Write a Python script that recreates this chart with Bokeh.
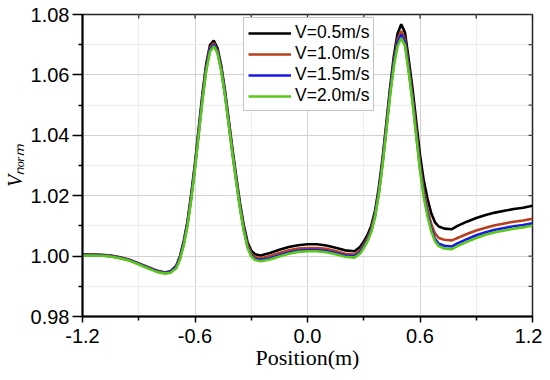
from bokeh.plotting import figure
from bokeh.models import (FixedTicker, NumeralTickFormatter, Legend,
                          LegendItem, Range1d)
from bokeh.embed import file_html
from bokeh.resources import INLINE

# ---------------- data ----------------
position = [-1.20, -1.15, -1.10, -1.05, -1.00, -0.95, -0.90, -0.85, -0.80, -0.76,
            -0.73, -0.70, -0.68, -0.66, -0.64, -0.62, -0.60, -0.58, -0.56, -0.54,
            -0.52, -0.50, -0.48, -0.46, -0.44, -0.42, -0.40, -0.38, -0.36, -0.34,
            -0.32, -0.30, -0.28, -0.25, -0.20, -0.15, -0.10, -0.05, 0.00, 0.05,
            0.10, 0.15, 0.20, 0.25, 0.28, 0.30, 0.32, 0.34, 0.36, 0.38,
            0.40, 0.42, 0.44, 0.46, 0.48, 0.50, 0.52, 0.54, 0.56, 0.58,
            0.60, 0.62, 0.64, 0.66, 0.68, 0.70, 0.73, 0.77, 0.80, 0.85,
            0.90, 0.95, 1.00, 1.05, 1.10, 1.15, 1.20]

v_05 = [1.0005, 1.0005, 1.0004, 1.0002, 0.9996, 0.9988, 0.9976, 0.9963, 0.9951, 0.9946,
        0.9950, 0.9968, 1.0000, 1.0050, 1.0115, 1.0206, 1.0308, 1.0424, 1.0539, 1.0637,
        1.0699, 1.0714, 1.0689, 1.0630, 1.0548, 1.0451, 1.0353, 1.0262, 1.0175, 1.0102,
        1.0047, 1.0018, 1.0006, 1.0002, 1.0010, 1.0021, 1.0030, 1.0036, 1.0039, 1.0039,
        1.0035, 1.0028, 1.0019, 1.0016, 1.0030, 1.0048, 1.0070, 1.0100, 1.0149, 1.0226,
        1.0323, 1.0437, 1.0555, 1.0660, 1.0736, 1.0768, 1.0740, 1.0650, 1.0555, 1.0445,
        1.0335, 1.0250, 1.0190, 1.0142, 1.0112, 1.0098, 1.0091, 1.0089, 1.0100, 1.0114,
        1.0126, 1.0136, 1.0144, 1.0150, 1.0156, 1.0160, 1.0167]

v_10 = [1.0004, 1.0004, 1.0003, 1.0001, 0.9995, 0.9987, 0.9975, 0.9962, 0.9950, 0.9945,
        0.9949, 0.9966, 0.9997, 1.0046, 1.0110, 1.0200, 1.0301, 1.0416, 1.0530, 1.0628,
        1.0690, 1.0705, 1.0681, 1.0622, 1.0540, 1.0443, 1.0345, 1.0254, 1.0166, 1.0093,
        1.0038, 1.0009, 0.9997, 0.9993, 1.0000, 1.0010, 1.0019, 1.0025, 1.0027, 1.0027,
        1.0024, 1.0017, 1.0008, 1.0005, 1.0019, 1.0037, 1.0060, 1.0090, 1.0139, 1.0215,
        1.0312, 1.0426, 1.0543, 1.0645, 1.0717, 1.0745, 1.0718, 1.0628, 1.0530, 1.0418,
        1.0305, 1.0217, 1.0155, 1.0106, 1.0075, 1.0060, 1.0054, 1.0052, 1.0060, 1.0073,
        1.0085, 1.0094, 1.0102, 1.0108, 1.0114, 1.0118, 1.0124]

v_15 = [1.0004, 1.0003, 1.0002, 1.0000, 0.9994, 0.9986, 0.9974, 0.9961, 0.9949, 0.9944,
        0.9948, 0.9964, 0.9994, 1.0042, 1.0106, 1.0195, 1.0296, 1.0410, 1.0524, 1.0622,
        1.0684, 1.0700, 1.0676, 1.0617, 1.0535, 1.0438, 1.0340, 1.0249, 1.0161, 1.0088,
        1.0032, 1.0003, 0.9991, 0.9987, 0.9993, 1.0003, 1.0012, 1.0018, 1.0020, 1.0020,
        1.0017, 1.0010, 1.0002, 0.9999, 1.0013, 1.0031, 1.0054, 1.0084, 1.0133, 1.0209,
        1.0306, 1.0420, 1.0537, 1.0637, 1.0707, 1.0734, 1.0707, 1.0617, 1.0518, 1.0405,
        1.0292, 1.0203, 1.0140, 1.0090, 1.0057, 1.0041, 1.0034, 1.0032, 1.0042, 1.0056,
        1.0069, 1.0079, 1.0087, 1.0093, 1.0099, 1.0103, 1.0109]

v_20 = [1.0002, 1.0002, 1.0001, 0.9999, 0.9993, 0.9985, 0.9972, 0.9959, 0.9947, 0.9942,
        0.9945, 0.9960, 0.9989, 1.0036, 1.0100, 1.0188, 1.0289, 1.0403, 1.0516, 1.0614,
        1.0677, 1.0695, 1.0672, 1.0613, 1.0531, 1.0435, 1.0337, 1.0246, 1.0158, 1.0084,
        1.0028, 0.9999, 0.9987, 0.9983, 0.9989, 0.9999, 1.0008, 1.0014, 1.0016, 1.0016,
        1.0013, 1.0006, 0.9998, 0.9995, 1.0008, 1.0026, 1.0049, 1.0079, 1.0128, 1.0203,
        1.0299, 1.0412, 1.0528, 1.0626, 1.0695, 1.0722, 1.0696, 1.0607, 1.0508, 1.0396,
        1.0284, 1.0195, 1.0132, 1.0082, 1.0049, 1.0033, 1.0025, 1.0023, 1.0033, 1.0047,
        1.0060, 1.0071, 1.0079, 1.0085, 1.0091, 1.0095, 1.0101]

series_labels = ["V=0.5m/s", "V=1.0m/s", "V=1.5m/s", "V=2.0m/s"]
series_colors = ["#000000", "#b8401f", "#1a1ae6", "#5ac81a"]

x_ticks = [-1.2, -0.6, 0.0, 0.6, 1.2]
x_minor = [-0.9, -0.3, 0.3, 0.9]
y_ticks = [0.98, 1.00, 1.02, 1.04, 1.06, 1.08]
y_minor = [0.99, 1.01, 1.03, 1.05, 1.07]

x_title = "Position(m)"
y_title = "V\u2099\u2092\u1d63\u2098"   # V with subscript "norm"

# ---------------- figure ----------------
p = figure(width=542, height=372,
           x_range=Range1d(x_ticks[0], x_ticks[-1]),
           y_range=Range1d(y_ticks[0], y_ticks[-1]),
           output_backend="svg", toolbar_location=None,
           min_border_left=80, min_border_right=10,
           min_border_top=14, min_border_bottom=55)
p.outline_line_color = "#222222"
p.outline_line_width = 1.5
p.background_fill_color = "white"
p.border_fill_color = "white"

xt = FixedTicker(ticks=x_ticks, minor_ticks=x_minor)
yt = FixedTicker(ticks=y_ticks, minor_ticks=y_minor)

tick_font = "Liberation Sans"

xa = p.xaxis[0]
xa.ticker = xt
xa.formatter = NumeralTickFormatter(format="0.0")
xa.axis_line_width = 2
xa.axis_line_color = "black"
xa.major_tick_line_width = 1.5
xa.minor_tick_line_width = 1.5
xa.major_tick_out = 6
xa.major_tick_in = 0
xa.minor_tick_out = 4
xa.minor_tick_in = 0
xa.major_label_text_font = tick_font
xa.major_label_text_font_size = "20px"
xa.major_label_text_color = "black"
xa.major_label_standoff = 6
xa.axis_label = x_title
xa.axis_label_text_font = "Liberation Serif"
xa.axis_label_text_font_style = "normal"
xa.axis_label_text_font_size = "22px"
xa.axis_label_text_color = "black"
xa.axis_label_standoff = -1

ya = p.yaxis[0]
ya.ticker = yt
ya.formatter = NumeralTickFormatter(format="0.00")
ya.axis_line_width = 2
ya.axis_line_color = "black"
ya.major_tick_line_width = 1.5
ya.minor_tick_line_width = 1.5
ya.major_tick_out = 10
ya.major_tick_in = 0
ya.minor_tick_out = 4
ya.minor_tick_in = 0
ya.major_label_text_font = tick_font
ya.major_label_text_font_size = "20px"
ya.major_label_text_color = "black"
ya.major_label_standoff = 3
ya.axis_label = y_title
ya.axis_label_text_font = "Liberation Serif"
ya.axis_label_text_font_style = "italic"
ya.axis_label_text_font_size = "20px"
ya.axis_label_text_color = "black"
ya.axis_label_standoff = 2

p.xgrid.ticker = xt
p.ygrid.ticker = yt
for g in (p.xgrid, p.ygrid):
    g.grid_line_color = "#d2d2d2"
    g.grid_line_width = 1
    g.minor_grid_line_color = "#ededed"
    g.minor_grid_line_width = 1

# inward ticks on the top and right frame edges (mirrored axes)
top_x = sorted(x_ticks + x_minor)
right_y = sorted(y_ticks + y_minor)
p.segment(x0=top_x, x1=top_x, y0=[y_ticks[-1]] * len(top_x),
          y1=[y_ticks[-1] - 0.0013] * len(top_x), line_color="#222222", line_width=1.2)
p.segment(x0=[x_ticks[-1]] * len(right_y), x1=[x_ticks[-1] - 0.021] * len(right_y),
          y0=right_y, y1=right_y, line_color="#444444", line_width=1.2)

# ---------------- curves ----------------
renderers = []
for vals, col in zip([v_05, v_10, v_15, v_20], series_colors):
    assert len(vals) == len(position)
    r = p.line(position, vals, line_color=col, line_width=2.6)
    renderers.append(r)

legend = Legend(items=[LegendItem(label=lab, renderers=[r])
                       for lab, r in zip(series_labels, renderers)],
                location=(161, 205))
legend.label_text_font = tick_font
legend.label_text_font_size = "17.5px"
legend.label_text_color = "black"
legend.glyph_width = 43
legend.glyph_height = 20
legend.label_height = 20
legend.label_standoff = 4
legend.spacing = 0
legend.padding = 4
legend.margin = 0
legend.border_line_color = "#8a8a8a"
legend.border_line_width = 1
legend.background_fill_color = "white"
legend.background_fill_alpha = 1.0
p.add_layout(legend, "center")

open("out.html", "w").write(file_html(p, INLINE))
